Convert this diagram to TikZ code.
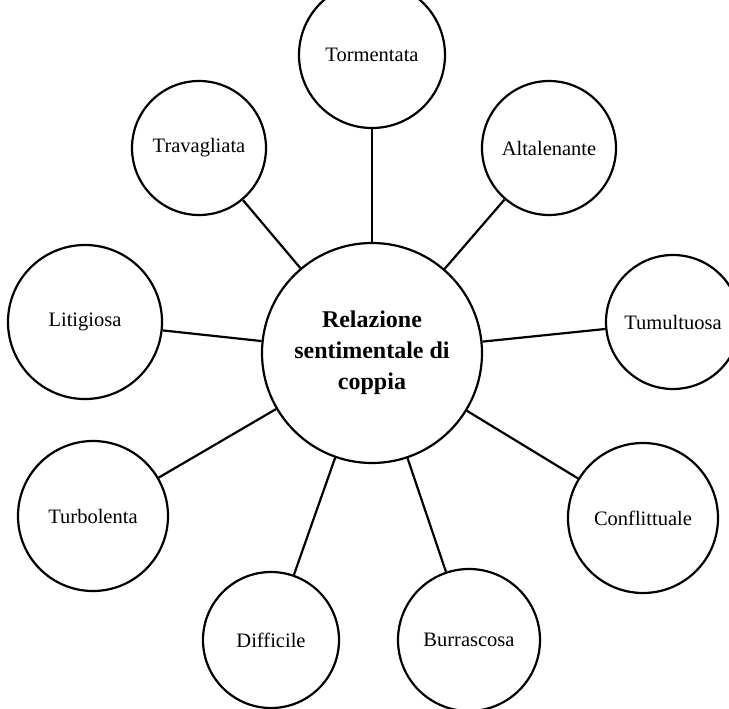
\documentclass[tikz,border=0pt]{standalone}
\usepackage{fontspec}
\setmainfont{Liberation Serif}
\begin{document}
\begin{tikzpicture}[x=1pt,y=-1pt,
  outer/.style={circle,draw=black,line width=2.2pt,minimum size=#1,inner sep=0pt,font=\fontsize{20.5}{24}\selectfont},
  outer/.default=146pt,
  hub/.style={circle,draw=black,line width=2.2pt,minimum size=220pt,inner sep=0pt,align=center,font=\fontsize{24}{31}\selectfont\bfseries},
  link/.style={line width=2.2pt,draw=black}]
\useasboundingbox (0,0) rectangle (729,709);
\node[hub] (c) at (372,353) {Relazione\\sentimentale di\\coppia};
\node[outer] (tor) at (372,55) {Tormentata};
\node[outer=134pt] (alt) at (549,148) {Altalenante};
\node[outer=134pt] (tum) at (673,322) {Tumultuosa};
\node[outer=150pt] (con) at (643,518) {Conflittuale};
\node[outer=142pt] (bur) at (469,640) {Burrascosa};
\node[outer=136pt] (dif) at (271,640) {Difficile};
\node[outer=150pt] (tur) at (93,516) {Turbolenta};
\node[outer=154pt] (lit) at (85,322) {Litigiosa};
\node[outer=134pt] (tra) at (199,148) {Travagliata};
\foreach \n in {tor,alt,tum,con,bur,dif,tur,lit,tra}
  \draw[link] (c) -- (\n);
\end{tikzpicture}
\end{document}
